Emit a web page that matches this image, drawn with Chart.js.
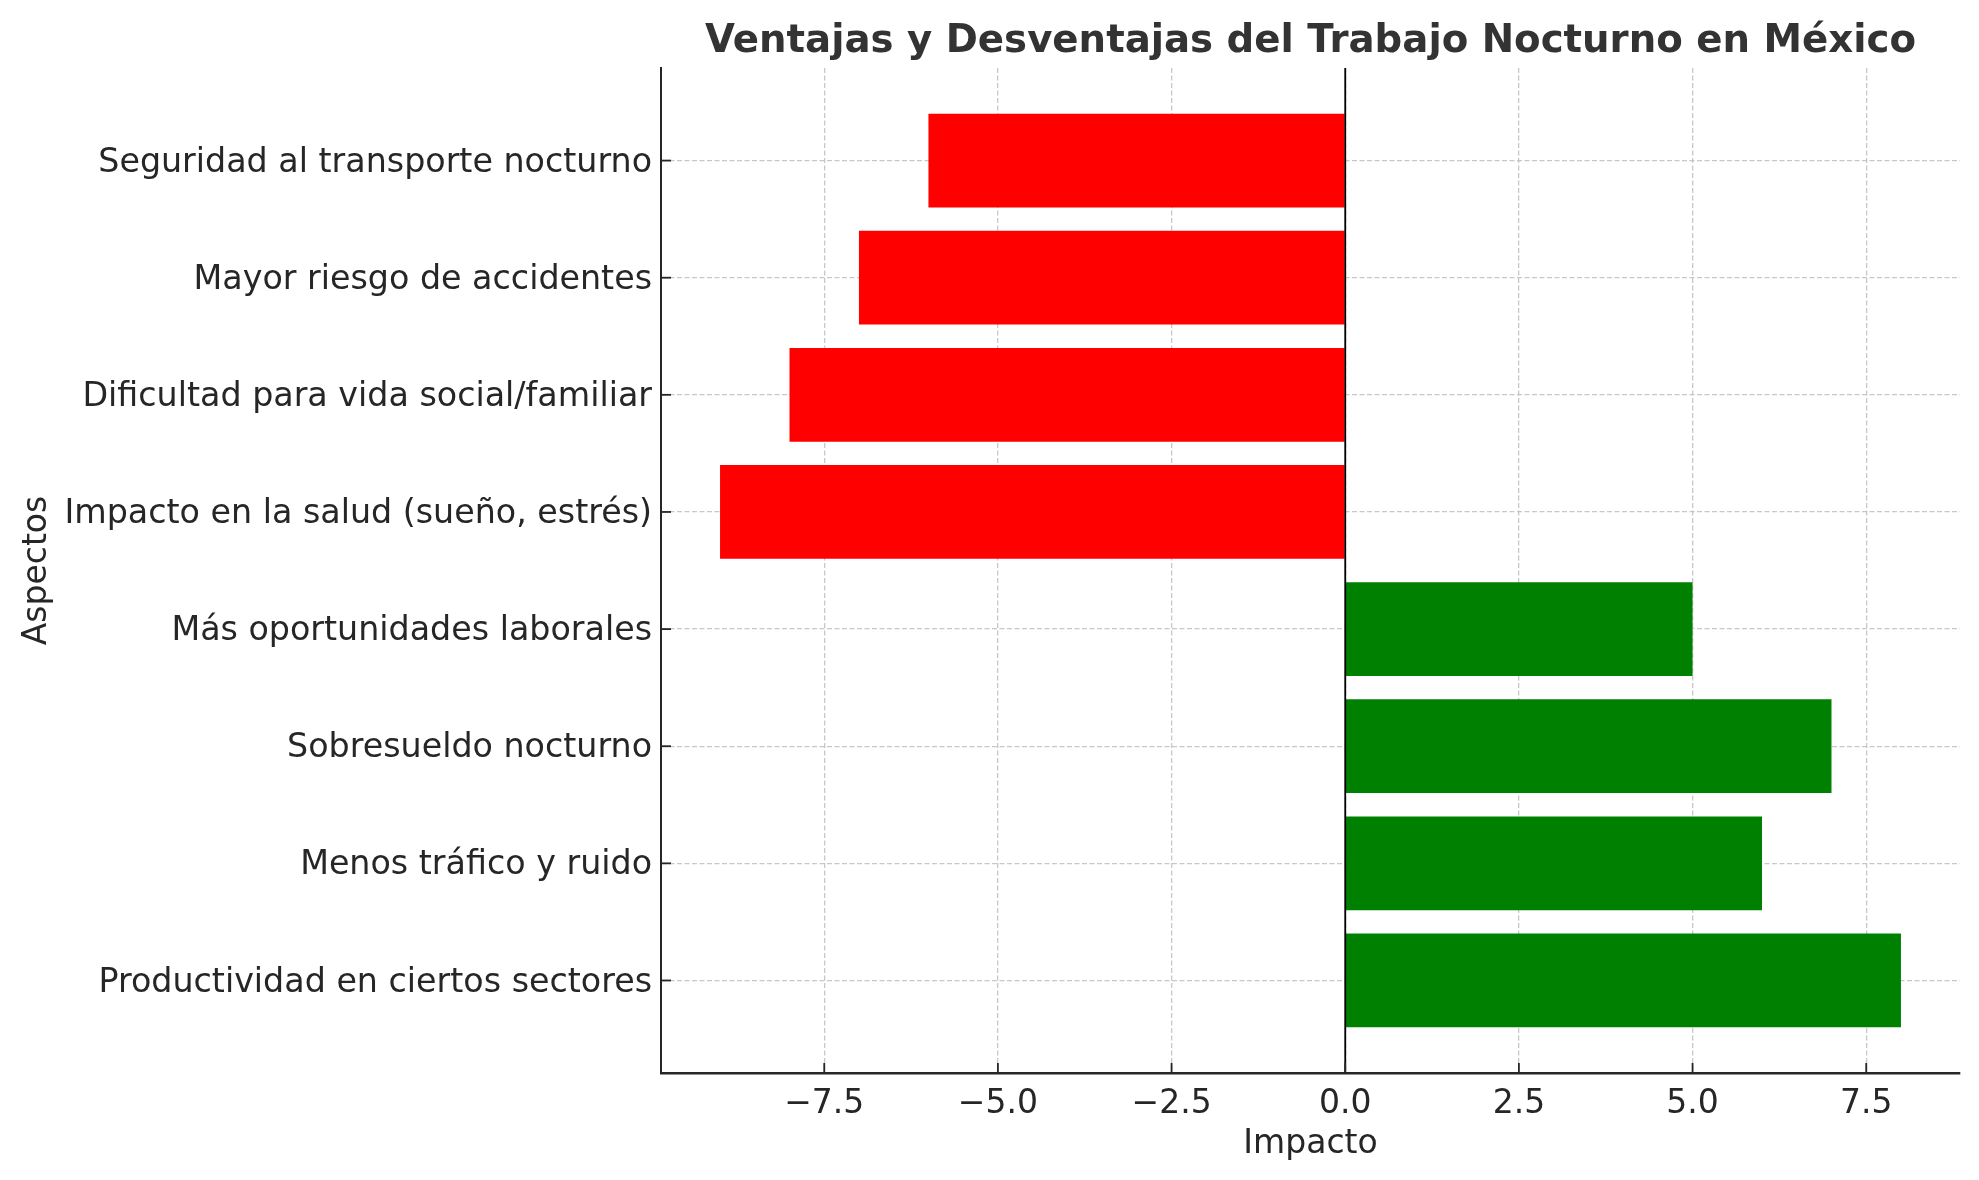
<!DOCTYPE html>
<html>
<head>
<meta charset="utf-8">
<script src="https://cdn.jsdelivr.net/npm/chart.js@4"></script>
<style>
html,body{margin:0;padding:0;background:#fff;}
#wrap{width:1979px;height:1180px;}
</style>
</head>
<body>
<div id="wrap"><canvas id="c" width="1979" height="1180"></canvas></div>
<script>
// Categories in plotting order (index 0 at the bottom)
const categories = [
  "Productividad en ciertos sectores",
  "Menos tráfico y ruido",
  "Sobresueldo nocturno",
  "Más oportunidades laborales",
  "Impacto en la salud (sueño, estrés)",
  "Dificultad para vida social/familiar",
  "Mayor riesgo de accidentes",
  "Seguridad al transporte nocturno"
];
const impactValues = [8, 6, 7, 5, -9, -8, -7, -6];
const xTickValues = [-7.5, -5.0, -2.5, 0.0, 2.5, 5.0, 7.5];
const chartTitle = "Ventajas y Desventajas del Trabajo Nocturno en México";
const xTitle = "Impacto";
const yTitle = "Aspectos";

const POS = '#008000', NEG = '#ff0000';
const FONT = "'DejaVu Sans', sans-serif";
const TXT = '#262626';

const decor = {
  id: 'decor',
  afterDraw(chart) {
    const {ctx, chartArea: a, scales: {x, y}} = chart;
    ctx.save();
    // zero line
    const x0 = x.getPixelForValue(0);
    ctx.strokeStyle = '#000';
    ctx.lineWidth = 1.8;
    ctx.beginPath(); ctx.moveTo(x0, a.top); ctx.lineTo(x0, a.bottom); ctx.stroke();
    // inward tick marks
    ctx.strokeStyle = TXT;
    ctx.lineWidth = 1.8;
    x.ticks.forEach(t => {
      const px = x.getPixelForValue(t.value);
      ctx.beginPath(); ctx.moveTo(px, a.bottom); ctx.lineTo(px, a.bottom - 10); ctx.stroke();
    });
    y.ticks.forEach(t => {
      const py = y.getPixelForValue(t.value);
      ctx.beginPath(); ctx.moveTo(a.left, py); ctx.lineTo(a.left + 10, py); ctx.stroke();
    });
    ctx.restore();
  }
};

new Chart(document.getElementById('c'), {
  type: 'bar',
  data: {
    datasets: [{
      data: impactValues.map((v, i) => ({x: v, y: i})),
      backgroundColor: impactValues.map(v => v < 0 ? NEG : POS),
      borderWidth: 0,
      barPercentage: 0.8,
      categoryPercentage: 1.0
    }]
  },
  options: {
    indexAxis: 'y',
    responsive: false,
    animation: false,
    layout: {padding: {left: 0, right: 19, top: 0, bottom: 0}},
    plugins: {
      legend: {display: false},
      tooltip: {enabled: false},
      title: {
        display: true,
        text: chartTitle,
        fullSize: false,
        color: '#333333',
        font: {family: FONT, size: 38.7, weight: 'bold', lineHeight: 1.2},
        padding: {top: 18.5, bottom: 3.1}
      }
    },
    scales: {
      x: {
        type: 'linear',
        min: -9.85,
        max: 8.85,
        z: 1,
        offset: false,
        afterBuildTicks: s => { s.ticks = xTickValues.map(v => ({value: v})); },
        afterFit: s => { s.height = 107; },
        ticks: {
          color: TXT,
          font: {family: FONT, size: 33},
          padding: 11.5,
          maxRotation: 0,
          autoSkip: false,
          callback: v => (v < 0 ? '\u2212' : '') + Math.abs(v).toFixed(1)
        },
        grid: {color: 'rgba(190,190,190,0.85)', lineWidth: 1.3, drawTicks: false, offset: false},
        border: {display: true, color: TXT, width: 2.5, dash: [5, 2.5]},
        title: {display: true, text: xTitle, color: TXT, font: {family: FONT, size: 33, lineHeight: 1.2}, padding: {top: 0, bottom: 15.5}}
      },
      y: {
        type: 'linear',
        min: -0.79,
        max: 7.79,
        z: 1,
        offset: false,
        afterBuildTicks: s => { s.ticks = categories.map((c, i) => ({value: i})); },
        afterFit: s => { s.width = 661; },
        ticks: {
          color: TXT,
          font: {family: FONT, size: 33.3},
          padding: 9,
          labelOffset: 2.5,
          autoSkip: false,
          callback: v => categories[v] ?? ''
        },
        grid: {color: 'rgba(190,190,190,0.85)', lineWidth: 1.3, drawTicks: false, offset: false},
        border: {display: true, color: TXT, width: 2, dash: [5, 2.5]},
        title: {display: true, text: yTitle, color: TXT, font: {family: FONT, size: 33, lineHeight: 1.2}, padding: {top: 17.5, bottom: 0}}
      }
    }
  },
  plugins: [decor]
});
</script>
</body>
</html>
